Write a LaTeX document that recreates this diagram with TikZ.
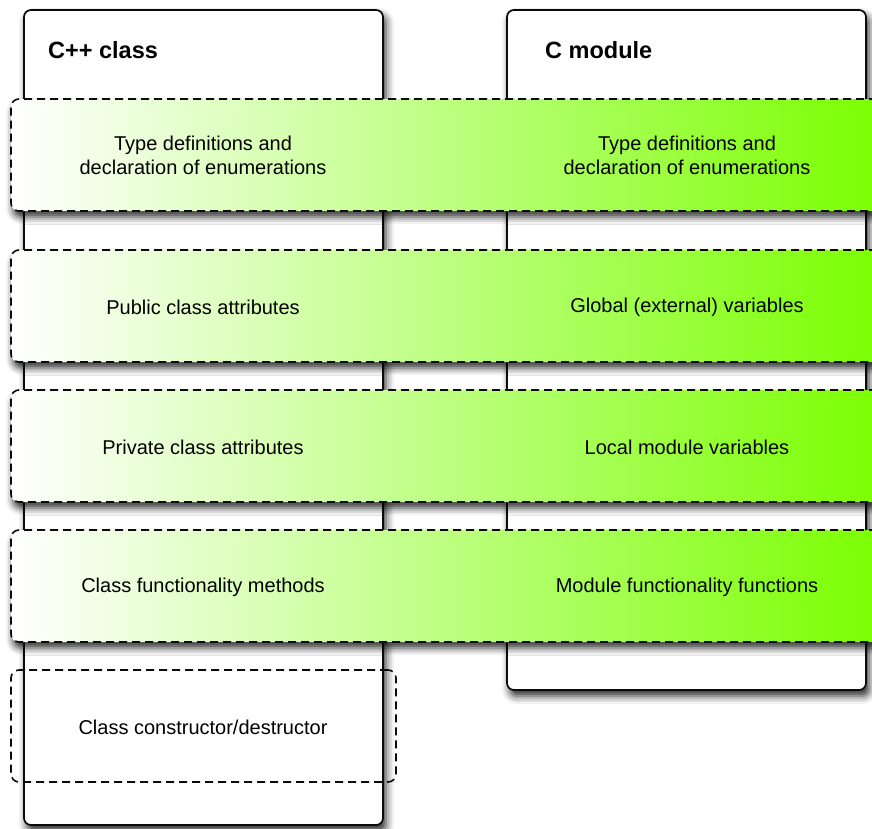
\documentclass[tikz,border=0pt]{standalone}
\usepackage{fontspec}
\setmainfont{Liberation Sans}
\usetikzlibrary{shadows.blur}
\definecolor{bandgreen}{RGB}{122,255,0}
\definecolor{edge}{RGB}{10,10,10}
\begin{document}
\begin{tikzpicture}[x=1pt,y=-1pt,
  panel/.style={draw=edge, line width=1.7pt, fill=white, rounded corners=7pt,
    inner sep=0pt, minimum width=359pt,
    blur shadow={shadow xshift=3pt, shadow yshift=-6pt, shadow blur radius=8pt, shadow opacity=85}},
  band/.style={draw=edge, line width=1.6pt, dash pattern=on 8pt off 5pt,
    rounded corners=8pt, inner sep=0pt, minimum width=874pt, minimum height=112pt,
    left color=white, right color=bandgreen,
    blur shadow={shadow xshift=2pt, shadow yshift=-6pt, shadow blur radius=7pt, shadow opacity=80}},
  outline/.style={draw=edge, line width=1.6pt, dash pattern=on 8pt off 5pt,
    rounded corners=8pt, inner sep=0pt, minimum width=385pt, minimum height=112pt},
  title/.style={font=\fontsize{23.5}{28}\selectfont\bfseries, anchor=west, inner sep=0pt},
  label/.style={font=\fontsize{20}{24}\selectfont, align=center, inner sep=0pt}]
\useasboundingbox (0,0) rectangle (872,828);

% the two containers
\node[panel, minimum height=815pt] (cpp) at (203.5,417.5) {};
\node[panel, minimum height=680pt] (cmod) at (686.5,350) {};
\node[title] (cppT) at (48,50) {C++ class};
\node[title] (cmodT) at (545,50) {C module};

% shared sections
\node[band] (b1) at (448,155) {};
\node[band] (b2) at (448,306) {};
\node[band] (b3) at (448,446) {};
\node[band] (b4) at (448,586) {};
\node[outline] (b5) at (203.5,726) {};

\node[label] (l1) at (203,155) {Type definitions and\\declaration of enumerations};
\node[label] (r1) at (687,155) {Type definitions and\\declaration of enumerations};
\node[label] (l2) at (203,307) {Public class attributes};
\node[label] (r2) at (687,307) {Global (external) variables};
\node[label] (l3) at (203,447) {Private class attributes};
\node[label] (r3) at (687,447) {Local module variables};
\node[label] (l4) at (203,587) {Class functionality methods};
\node[label] (r4) at (687,587) {Module functionality functions};
\node[label] (l5) at (203,727) {Class constructor/destructor};
\end{tikzpicture}
\end{document}
